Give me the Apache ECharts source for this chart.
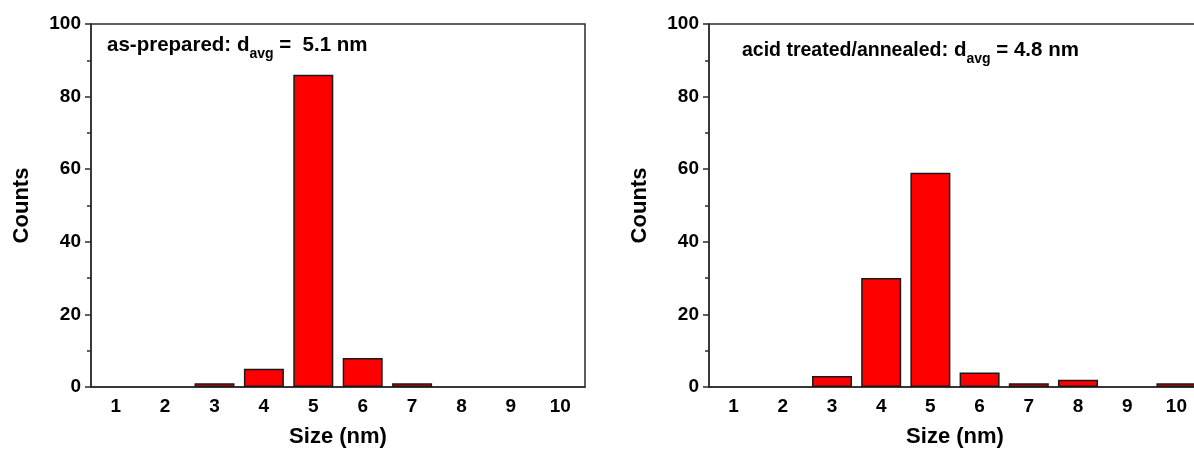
<!DOCTYPE html>
<html>
<head>
<meta charset="utf-8">
<script src="https://cdn.jsdelivr.net/npm/echarts@6/dist/echarts.min.js"></script>
<style>
  html, body { margin: 0; padding: 0; background: #fff; }
  #chart { width: 1194px; height: 454px; }
</style>
</head>
<body>
<div id="chart"></div>
<script>
// size classes (nm) and particle counts
const sizes = ['1', '2', '3', '4', '5', '6', '7', '8', '9', '10']
const countsPrepared = [0, 0, 1, 5, 86, 8, 1, 0, 0, 0]
const countsAnnealed = [0, 0, 3, 30, 59, 4, 1, 2, 0, 1]
const yMin = 0
const yMax = 100
const yStep = 20

const FONT = '"Liberation Sans", Arial, sans-serif'
const AXIS = '#2b2b2b'

const chart = echarts.init(document.getElementById('chart'))

// right panel runs a little past the page edge, like the cropped original
const grids = [
  { left: 91, top: 24, width: 494, height: 363 },
  { left: 709, top: 24, width: 492, height: 363 }
]

const makeX = (gi) => [
  {
    type: 'category',
    gridIndex: gi,
    data: sizes,
    boundaryGap: true,
    position: 'bottom',
    axisLine: { lineStyle: { color: AXIS, width: 1.5 } },
    axisTick: { alignWithLabel: true, length: 7, lineStyle: { color: AXIS, width: 1.5 } },
    axisLabel: { fontSize: 19, fontWeight: 'bold', color: '#000', fontFamily: FONT, margin: 10 },
    name: 'Size (nm)',
    nameLocation: 'middle',
    nameGap: 39,
    nameTextStyle: { fontSize: 22, fontWeight: 'bold', color: '#000', fontFamily: FONT },
    splitLine: { show: false }
  },
  {
    // minor ticks between size classes
    type: 'category',
    gridIndex: gi,
    data: sizes,
    boundaryGap: true,
    position: 'bottom',
    axisLine: { show: false },
    axisTick: { alignWithLabel: false, length: 4, lineStyle: { color: AXIS, width: 1.5 } },
    axisLabel: { show: false },
    splitLine: { show: false }
  }
]

const makeY = (gi) => ({
  type: 'value',
  gridIndex: gi,
  min: yMin,
  max: yMax,
  interval: yStep,
  axisLine: { show: true, lineStyle: { color: AXIS, width: 1.5 } },
  axisTick: { show: true, length: 6, lineStyle: { color: AXIS, width: 1.5 } },
  minorTick: { show: true, splitNumber: 2, length: 4, lineStyle: { color: AXIS, width: 1.5 } },
  splitLine: { show: false },
  axisLabel: { fontSize: 19, fontWeight: 'bold', color: '#000', fontFamily: FONT, margin: 10 },
  name: 'Counts',
  nameLocation: 'middle',
  nameGap: 58,
  nameTextStyle: { fontSize: 22, fontWeight: 'bold', color: '#000', fontFamily: FONT }
})

const makeBars = (gi, values) => ({
  type: 'bar',
  xAxisIndex: gi * 2,
  yAxisIndex: gi,
  barWidth: 40,
  data: values.map(v => (v === 0 ? '-' : v)),
  itemStyle: { color: '#ff0000', borderColor: '#1a1a1a', borderWidth: 1.5 }
})

const richStyles = (leadSize) => ({
  l: { fontSize: leadSize, fontWeight: 'bold', fontFamily: FONT, fill: '#000', lineHeight: 32 },
  a: { fontSize: 20.5, fontWeight: 'bold', fontFamily: FONT, fill: '#000', lineHeight: 32 },
  s: { fontSize: 14, fontWeight: 'bold', fontFamily: FONT, fill: '#000', lineHeight: 14, verticalAlign: 'bottom' }
})

const option = {
  animation: false,
  backgroundColor: '#fff',
  grid: grids.map(g => Object.assign({ show: true, borderColor: AXIS, borderWidth: 1.5, outerBoundsMode: 'none' }, g)),
  xAxis: [...makeX(0), ...makeX(1)],
  yAxis: [makeY(0), makeY(1)],
  series: [makeBars(0, countsPrepared), makeBars(1, countsAnnealed)],
  graphic: [
    {
      type: 'text',
      left: 107,
      top: 35,
      style: { text: '{l|as-prepared: }{a|d}{s|avg}{a| =  5.1 nm}', rich: richStyles(20.5) }
    },
    {
      type: 'text',
      left: 742,
      top: 40,
      style: { text: '{l|acid treated/annealed}{a|: d}{s|avg}{a| = 4.8 nm}', rich: richStyles(19.5) }
    }
  ]
}

chart.setOption(option)
</script>
</body>
</html>
